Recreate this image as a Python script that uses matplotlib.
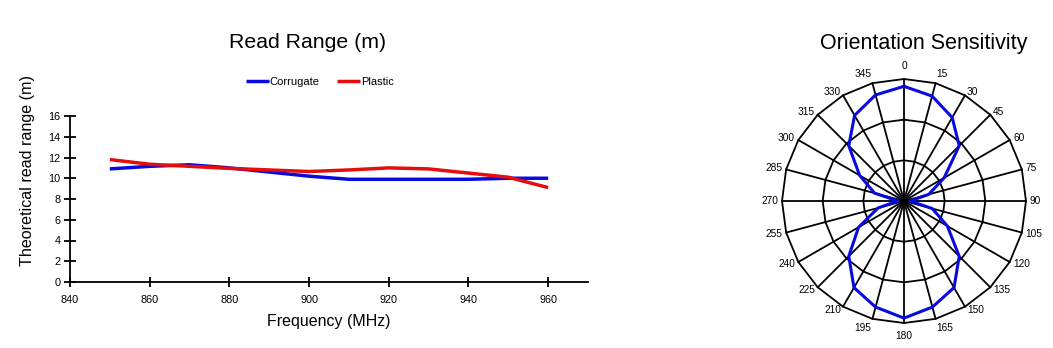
import numpy as np
import matplotlib
matplotlib.use("Agg")
import matplotlib.pyplot as plt

# Read range versus frequency
freq_mhz = [850, 860, 870, 880, 890, 900, 910, 920, 930, 940, 950, 960]
corrugate = [10.9, 11.15, 11.3, 11.0, 10.6, 10.2, 9.9, 9.9, 9.9, 9.9, 10.0, 10.0]
plastic = [11.8, 11.35, 11.15, 10.95, 10.8, 10.65, 10.8, 11.0, 10.9, 10.5, 10.1, 9.1]

# Orientation sensitivity (relative read range per tag angle)
angles_deg = list(range(0, 360, 15))
sensitivity = [2.82, 2.67, 2.37, 1.92, 1.14, 0.63, 0.15, 0.72, 1.23, 1.92, 2.46, 2.70,
               2.88, 2.70, 2.46, 1.92, 1.29, 0.66, 0.15, 0.75, 1.26, 1.92, 2.43, 2.70]
ring_levels = [1, 2, 3]

x_ticks = [840, 860, 880, 900, 920, 940, 960]
y_ticks = [0, 2, 4, 6, 8, 10, 12, 14, 16]

BLUE = "#0a0ae0"
RED = "#e60d0d"

plt.rcParams["font.family"] = ["Liberation Sans", "DejaVu Sans"]

W, H = 1053, 348
fig = plt.figure(figsize=(W / 100, H / 100), dpi=100)

# ---- line chart ----
ax = fig.add_axes([70 / W, 1 - 282 / H, (588 - 70) / W, (282 - 116) / H])
ax.plot(freq_mhz, corrugate, color=BLUE, lw=2.5, label="Corrugate", solid_capstyle="butt")
ax.plot(freq_mhz, plastic, color=RED, lw=2.5, label="Plastic", solid_capstyle="butt")
ax.set_xlim(840, 970)
ax.set_ylim(0, 16)
ax.set_xticks(x_ticks)
ax.set_yticks(y_ticks)
for s in ("top", "right"):
    ax.spines[s].set_visible(False)
for s in ("left", "bottom"):
    ax.spines[s].set_linewidth(1.3)
ax.tick_params(direction="inout", length=7, width=1.3, labelsize=7.8, pad=6)
ax.tick_params(axis="y", length=8, pad=3)
ax.set_xlabel("Frequency (MHz)", fontsize=11.5, labelpad=6)
fig.text(28 / W, 1 - 170 / H, "Theoretical read range (m)", rotation=90,
         fontsize=11.6, ha="center", va="center")
fig.text(308 / W, 1 - 43 / H, "Read Range (m)", fontsize=15.3, ha="center", va="center")
fig.legend(loc="center", bbox_to_anchor=(320 / W, 1 - 82 / H), ncol=2, frameon=False,
           fontsize=8, handlelength=2.0, handletextpad=0.1, columnspacing=1.6)

# ---- polar chart ----
R = 122
pax = fig.add_axes([(904 - R) / W, 1 - (201 + R) / H, 2 * R / W, 2 * R / H],
                   projection="polar")
pax.set_theta_zero_location("N")
pax.set_theta_direction(-1)
pax.set_ylim(0, ring_levels[-1])
pax.grid(False)
pax.spines["polar"].set_visible(False)
pax.set_xticks([])
pax.set_yticks([])
pax.patch.set_alpha(0)

theta = np.deg2rad(angles_deg)
theta_closed = np.append(theta, theta[0])
for lvl in ring_levels:
    pax.plot(theta_closed, [lvl] * len(theta_closed), color="black", lw=1.3, clip_on=False)
for t in theta:
    pax.plot([t, t], [0, ring_levels[-1]], color="black", lw=1.3, clip_on=False)

pax.plot(theta_closed, np.append(sensitivity, sensitivity[0]), color=BLUE, lw=2.2,
         clip_on=False, zorder=5)

# angle labels just outside each outer vertex
for a, t in zip(angles_deg, theta):
    s, c = np.sin(t), np.cos(t)
    ha = "left" if s > 0.1 else ("right" if s < -0.1 else "center")
    if c > 0.9:
        va = "bottom"
    elif c < -0.9:
        va = "top"
    else:
        va = "center"
    d = 8 if abs(s) < 0.1 else 4
    pax.annotate(str(a), xy=(t, ring_levels[-1]), xytext=(s * d, c * d),
                 textcoords="offset pixels", fontsize=7.3, ha=ha, va=va,
                 annotation_clip=False)

fig.text(924 / W, 1 - 43 / H, "Orientation Sensitivity", fontsize=15.5, ha="center", va="center")

fig.savefig("out.png", dpi=100)
